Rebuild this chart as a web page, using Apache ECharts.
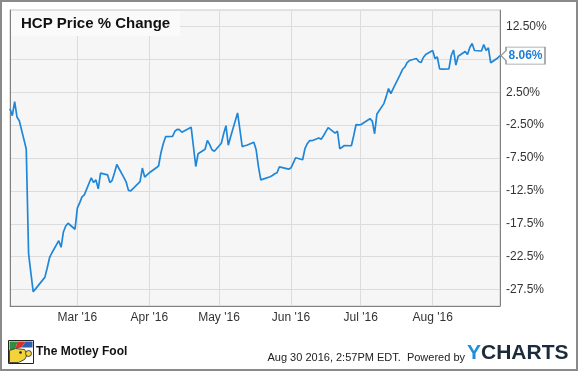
<!DOCTYPE html>
<html>
<head>
<meta charset="utf-8">
<script src="https://cdn.jsdelivr.net/npm/echarts@6/dist/echarts.min.js"></script>
<style>
html,body{margin:0;padding:0;background:#fff;}
#chart{width:580px;height:371px;}
</style>
</head>
<body>
<div id="chart"></div>
<script>
// ---- data ----
const dates = [
'2016-02-01','2016-02-02','2016-02-03','2016-02-04','2016-02-05',
'2016-02-08','2016-02-09','2016-02-10','2016-02-11','2016-02-12',
'2016-02-16','2016-02-17','2016-02-18','2016-02-19',
'2016-02-22','2016-02-23','2016-02-24','2016-02-25','2016-02-26',
'2016-02-29','2016-03-01','2016-03-02','2016-03-03','2016-03-04',
'2016-03-07','2016-03-08','2016-03-09','2016-03-10','2016-03-11',
'2016-03-14','2016-03-15','2016-03-16','2016-03-17','2016-03-18',
'2016-03-21','2016-03-22','2016-03-23','2016-03-24',
'2016-03-28','2016-03-29','2016-03-30','2016-03-31','2016-04-01',
'2016-04-04','2016-04-05','2016-04-06','2016-04-07','2016-04-08',
'2016-04-11','2016-04-12','2016-04-13','2016-04-14','2016-04-15',
'2016-04-18','2016-04-19','2016-04-20','2016-04-21','2016-04-22',
'2016-04-25','2016-04-26','2016-04-27','2016-04-28','2016-04-29',
'2016-05-02','2016-05-03','2016-05-04','2016-05-05','2016-05-06',
'2016-05-09','2016-05-10','2016-05-11','2016-05-12','2016-05-13',
'2016-05-16','2016-05-17','2016-05-18','2016-05-19','2016-05-20',
'2016-05-23','2016-05-24','2016-05-25','2016-05-26','2016-05-27',
'2016-05-31','2016-06-01','2016-06-02','2016-06-03',
'2016-06-06','2016-06-07','2016-06-08','2016-06-09','2016-06-10',
'2016-06-13','2016-06-14','2016-06-15','2016-06-16','2016-06-17',
'2016-06-20','2016-06-21','2016-06-22','2016-06-23','2016-06-24',
'2016-06-27','2016-06-28','2016-06-29','2016-06-30','2016-07-01',
'2016-07-05','2016-07-06','2016-07-07','2016-07-08',
'2016-07-11','2016-07-12','2016-07-13','2016-07-14','2016-07-15',
'2016-07-18','2016-07-19','2016-07-20','2016-07-21','2016-07-22',
'2016-07-25','2016-07-26','2016-07-27','2016-07-28','2016-07-29',
'2016-08-01','2016-08-02','2016-08-03','2016-08-04','2016-08-05',
'2016-08-08','2016-08-09','2016-08-10','2016-08-11','2016-08-12',
'2016-08-15','2016-08-16','2016-08-17','2016-08-18','2016-08-19',
'2016-08-22','2016-08-23','2016-08-24','2016-08-25','2016-08-26',
'2016-08-29','2016-08-30'
];
const priceChange = [
0.00, -1.06, 1.07, -1.26, -1.83,
-6.14, -21.99, -25.0, -27.84, -27.4,
-25.65, -24.27, -22.7, -21.94,
-20.07, -21.07, -18.74, -17.83, -17.42,
-18.33, -15.13, -14.32, -13.41, -13.10,
-10.51, -11.23, -10.82, -12.19, -9.80,
-10.06, -11.23, -10.89, -9.75, -8.49,
-10.44, -11.12, -12.42, -12.49,
-11.08, -9.03, -10.41, -10.06, -9.75,
-8.99, -8.68, -6.70, -5.33, -4.26,
-4.22, -3.43, -3.15, -3.20, -3.58,
-3.00, -2.82, -5.79, -8.79, -6.85,
-6.17, -4.83, -5.48, -6.25, -6.47,
-5.25, -3.81, -2.59, -5.56, -4.26,
-0.65, -3.20, -5.79, -5.64, -5.56,
-5.10, -6.25, -8.84, -10.82, -10.71,
-10.36, -10.16, -9.90, -9.75, -8.84,
-9.20, -8.99, -8.23, -7.46,
-7.77, -6.09, -5.33, -4.87, -4.87,
-4.46, -4.64, -4.11, -3.50, -2.89,
-3.73, -3.43, -6.09, -5.86, -5.60,
-5.64, -4.11, -2.44, -2.47, -2.44,
-1.52, -1.90, -3.81, -0.80,
0.77, 1.83, 3.05, 2.29, 3.05,
5.18, 5.95, 6.33, 7.01, 7.32,
7.62, 7.17, 7.01, 7.78, 8.23,
8.84, 7.62, 7.85, 6.05, 6.02,
6.05, 8.08, 8.92, 6.63, 7.97,
8.69, 8.23, 9.30, 9.91, 8.84,
8.77, 9.76, 8.84, 9.25, 6.97,
7.70, 8.06
];
const xTickDates = ['2016-03-01','2016-04-01','2016-05-01','2016-06-01','2016-07-01','2016-08-01'];
const xTickLabels = ["Mar '16","Apr '16","May '16","Jun '16","Jul '16","Aug '16"];
const yTickValues = [-27.5,-22.5,-17.5,-12.5,-7.5,-2.5,2.5,7.5,12.5];
const yTickLabels = ['-27.5%','-22.5%','-17.5%','-12.5%','-7.50%','-2.50%','2.50%','7.50%','12.50%'];

// ---- chart ----
const FONT = '"Liberation Sans", Arial, sans-serif';
const toTime = d => echarts.time.parse(d).getTime();
const xTickTimes = xTickDates.map(toTime);
const times = dates.map(toTime);
const seriesData = times.map((t, i) => [t, priceChange[i]]);
const lastTime = times[times.length - 1];
const lastVal = priceChange[priceChange.length - 1];

const chart = echarts.init(document.getElementById('chart'), null, {renderer: 'canvas'});
const gridLineColor = '#dcdcdc';

chart.setOption({
  animation: false,
  backgroundColor: '#ffffff',
  grid: {
    left: 10, right: 80, top: 10, bottom: 65,
    show: true, backgroundColor: '#f6f6f6', borderColor: '#c8c8c8', borderWidth: 1
  },
  xAxis: {
    type: 'value',
    min: times[0],
    max: lastTime,
    axisLine: {show: true, onZero: false, lineStyle: {color: '#808080', width: 1}},
    axisTick: {show: false, customValues: xTickTimes},
    splitLine: {show: true, lineStyle: {color: gridLineColor, width: 1}},
    axisLabel: {
      customValues: xTickTimes,
      margin: 6,
      color: '#333',
      fontSize: 12,
      fontFamily: FONT,
      formatter: function (v) {
        const idx = xTickTimes.indexOf(v);
        return idx >= 0 ? xTickLabels[idx] : '';
      }
    }
  },
  yAxis: [{
    type: 'value',
    position: 'right',
    min: -30,
    max: 15,
    axisLine: {show: true, lineStyle: {color: '#808080', width: 1}},
    axisTick: {show: false, customValues: yTickValues},
    splitLine: {show: true, lineStyle: {color: gridLineColor, width: 1}},
    axisLabel: {
      customValues: yTickValues,
      margin: 6,
      color: '#333',
      fontSize: 12,
      fontFamily: FONT,
      formatter: function (v) {
        const idx = yTickValues.indexOf(v);
        return idx >= 0 ? yTickLabels[idx] : '';
      }
    }
  }, {
    type: 'value',
    position: 'left',
    min: -30,
    max: 15,
    axisLine: {show: true, lineStyle: {color: '#808080', width: 1}},
    axisTick: {show: false},
    splitLine: {show: false},
    axisLabel: {show: false}
  }],
  series: [{
    type: 'line',
    yAxisIndex: 0,
    data: seriesData,
    showSymbol: false,
    symbol: 'none',
    lineStyle: {color: '#2087d8', width: 1.7},
    z: 3,
    markPoint: {
      symbol: 'path://M0,8.5 L5,3.5 L5,0 L44,0 L44,17 L5,17 L5,13.5 Z',
      symbolSize: [44, 17],
      symbolKeepAspect: false,
      symbolOffset: [23, 0],
      itemStyle: {color: '#ffffff', borderColor: '#999999', borderWidth: 1},
      label: {
        show: true,
        position: 'inside',
        offset: [2.5, 0.5],
        color: '#1f7fd6',
        fontWeight: 'bold',
        fontSize: 12,
        fontFamily: FONT,
        formatter: function () { return lastVal.toFixed(2) + '%'; }
      },
      z: 10,
      data: [{coord: [lastTime, lastVal]}]
    }
  }],
  graphic: [
    {type: 'rect', z: 100, silent: true,
      shape: {x: 1, y: 1, width: 576, height: 369},
      style: {fill: null, stroke: '#8a8a8a', lineWidth: 2}},
    {type: 'rect', z: 100, silent: true,
      shape: {x: 11, y: 11, width: 169, height: 25},
      style: {fill: '#fafafa', stroke: null}},
    {type: 'text', z: 101, silent: true, left: 21, top: 16,
      style: {text: 'HCP Price % Change', font: 'bold 15px ' + FONT, fill: '#111'}},
    {type: 'group', z: 100, left: 8, top: 340, children: [
      {type: 'rect', shape: {x: 0, y: 0, width: 25, height: 23}, style: {fill: '#ffffff', stroke: '#222', lineWidth: 1}},
      {type: 'polygon', shape: {points: [[1,1],[9,1],[7,8],[1,10]]}, style: {fill: '#2f8f3f'}},
      {type: 'polygon', shape: {points: [[9,1],[17,1],[13,7],[7,8]]}, style: {fill: '#d9302c'}},
      {type: 'polygon', shape: {points: [[17,1],[24,1],[24,7],[13,7]]}, style: {fill: '#2f5fb0'}},
      {type: 'polygon', shape: {points: [[1,10],[7,8],[16,9],[19,14],[16,19],[10,22],[1,22]]}, style: {fill: '#f3d23a', stroke: '#222', lineWidth: 0.8}},
      {type: 'circle', shape: {cx: 20, cy: 13, r: 3}, style: {fill: '#f3d23a', stroke: '#222', lineWidth: 0.8}},
      {type: 'circle', shape: {cx: 12, cy: 12, r: 1.3}, style: {fill: '#222'}}
    ]},
    {type: 'text', z: 100, silent: true, left: 36, top: 346,
      style: {text: 'The Motley Fool', font: 'bold 12px ' + FONT, fill: '#111'}},
    {type: 'text', z: 100, silent: true, right: 115, top: 352,
      style: {text: 'Aug 30 2016, 2:57PM EDT.  Powered by', font: '11px ' + FONT, fill: '#222'}},
    {type: 'text', z: 100, silent: true, left: 467, top: 343,
      style: {
        text: '{y|Y}{c|CHARTS}',
        rich: {
          y: {font: 'bold 21px ' + FONT, fill: '#1e90d8'},
          c: {font: 'bold 21px ' + FONT, fill: '#1b2b3c'}
        }
      }}
  ]
});
</script>
</body>
</html>
